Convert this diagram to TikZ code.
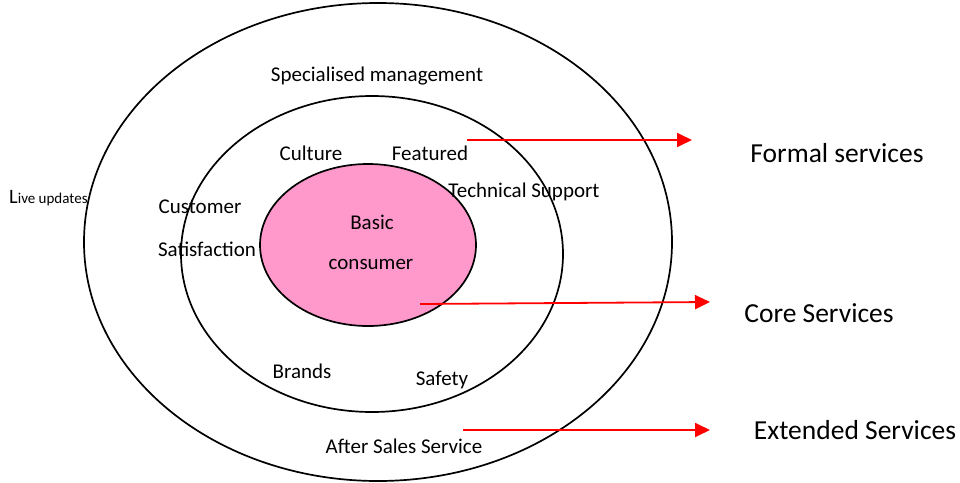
\documentclass[tikz,border=0pt]{standalone}
\usepackage{fontspec}
\setmainfont{Carlito}
\usetikzlibrary{shapes.geometric,arrows.meta}
\definecolor{rosa}{RGB}{255,153,204}

\begin{document}
\begin{tikzpicture}[x=1pt,y=-1pt,
    ring/.style={draw=black, line width=1.7pt, ellipse, inner sep=0pt},
    lbl/.style={font=\fontsize{21}{24}\selectfont, inner sep=0pt},
    big/.style={font=\fontsize{27.5}{31}\selectfont, inner sep=0pt},
    pointer/.style={draw=red, line width=1.8pt, -{Triangle[length=15pt,width=14pt]}}]
    \useasboundingbox (0,0) rectangle (960,482);

    % the three rings
    \node [ring, minimum width=588, minimum height=478] (outer) at (378,242) {};
    \node [ring, minimum width=382, minimum height=316] (middle) at (372,254) {};
    \node [ring, fill=rosa, minimum width=216, minimum height=162] (core) at (368,245) {};

    % labels inside
    \node [lbl] (spec) at (377,76) {Specialised management};
    \node [lbl] (culture) at (311,153) {Culture};
    \node [lbl] (feat) at (430,153) {Featured};
    \node [lbl] (tech) at (524,192) {Technical Support};
    \node [lbl] (cust) at (200,207) {Customer};
    \node [lbl] (satis) at (207,249) {Satisfaction};
    \node [lbl] (basic) at (372,222) {Basic};
    \node [lbl] (cons) at (371,264) {consumer};
    \node [lbl] (brands) at (302,371) {Brands};
    \node [lbl] (safety) at (442,380) {Safety};
    \node [lbl] (after) at (404,446) {After Sales Service};
    \node [inner sep=0pt, anchor=west] (live) at (9,198)
        {\fontsize{20.5}{23}\selectfont L\fontsize{15}{17}\selectfont ive updates};

    % service levels
    \node [big] (formal) at (837,153) {Formal services};
    \node [big] (coresv) at (819,313) {Core Services};
    \node [big] (ext) at (855,430) {Extended Services};

    \coordinate (f0) at (467,140);
    \coordinate (f1) at (692,140);
    \coordinate (c0) at (420,304);
    \coordinate (c1) at (710,302);
    \coordinate (e0) at (463,430);
    \coordinate (e1) at (710,430);

    \draw [pointer] (f0) -- (f1);
    \draw [pointer] (c0) -- (c1);
    \draw [pointer] (e0) -- (e1);

\end{tikzpicture}
\end{document}
